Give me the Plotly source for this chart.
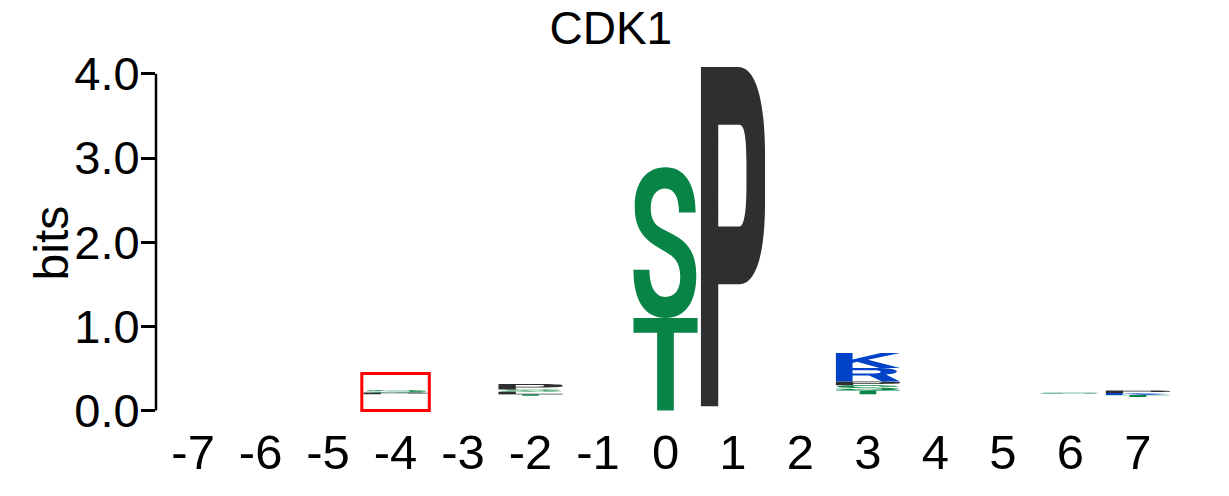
import plotly.graph_objects as go

# ---------------- data ----------------
title_text = "CDK1"
y_label = "bits"
positions = [-7, -6, -5, -4, -3, -2, -1, 0, 1, 2, 3, 4, 5, 6, 7]
position_labels = ["-7", "-6", "-5", "-4", "-3", "-2", "-1", "0", "1", "2", "3", "4", "5", "6", "7"]
y_ticks = [0.0, 1.0, 2.0, 3.0, 4.0]
y_tick_labels = ["0.0", "1.0", "2.0", "3.0", "4.0"]

# bits occupied below the visible letters of each position
base_bits = [0, 0, 0, 0.195, 0, 0.175, 0, 0, 0.05, 0, 0.195, 0, 0, 0.20, 0.16]

# letters in stacking order (bottom -> top) per position
letter_pos = [-4, -4, -2, -2, -2, -2, 0, 0, 1, 3, 3, 3, 3, 3, 6, 7, 7, 7]
letter_char = ["P", "S", "T", "L", "S", "P", "T", "S", "P", "T", "S", "P", "R", "K", "S", "T", "K", "P"]
letter_bits = [0.02, 0.03, 0.02, 0.03, 0.025, 0.065, 1.10, 1.79, 4.03,
               0.045, 0.06, 0.045, 0.16, 0.18, 0.012, 0.025, 0.025, 0.03]

# highlighted position
highlight_pos = -4
highlight_top_bits = 0.44

# ---------------- styles ----------------
FONT = "Liberation Sans, Arial, Helvetica, sans-serif"
GREEN = "#078446"
BLUE = "#0043c8"
DARK = "#2f2f2f"
RED = "#d00000"
PURPLE = "#8a2be2"
letter_color = {}
for c in "STGYC":
    letter_color[c] = GREEN
for c in "KRH":
    letter_color[c] = BLUE
for c in "DE":
    letter_color[c] = RED
for c in "QN":
    letter_color[c] = PURPLE
LETTER_WIDTH = 0.95

# glyph outlines in a unit box (x right, y up)
GLYPHS = {
    "T": [[("M", (0, 1)), ("L", (1, 1)), ("L", (1, 0.84)), ("L", (0.63, 0.84)),
           ("L", (0.63, 0)), ("L", (0.37, 0)), ("L", (0.37, 0.84)), ("L", (0, 0.84))]],
    "L": [[("M", (0, 0)), ("L", (0, 1)), ("L", (0.27, 1)), ("L", (0.27, 0.15)),
           ("L", (1, 0.15)), ("L", (1, 0))]],
    "P": [
        [("M", (0, 0)), ("L", (0, 1)), ("L", (0.58, 1)),
         ("C", (0.86, 1), (1, 0.9), (1, 0.74)), ("L", (1, 0.6)),
         ("C", (1, 0.45), (0.86, 0.36), (0.6, 0.36)), ("L", (0.27, 0.36)), ("L", (0.27, 0))],
        [("M", (0.27, 0.53)), ("L", (0.6, 0.53)),
         ("C", (0.68, 0.53), (0.71, 0.58), (0.71, 0.65)), ("L", (0.71, 0.72)),
         ("C", (0.71, 0.79), (0.68, 0.83), (0.6, 0.83)), ("L", (0.27, 0.83))],
    ],
    "R": [
        [("M", (0, 0)), ("L", (0, 1)), ("L", (0.6, 1)),
         ("C", (0.85, 1), (0.95, 0.88), (0.95, 0.74)),
         ("C", (0.95, 0.62), (0.88, 0.55), (0.78, 0.52)),
         ("L", (1, 0)), ("L", (0.72, 0)), ("L", (0.52, 0.45)), ("L", (0.26, 0.45)), ("L", (0.26, 0))],
        [("M", (0.26, 0.6)), ("L", (0.6, 0.6)),
         ("C", (0.66, 0.6), (0.7, 0.64), (0.7, 0.72)),
         ("C", (0.7, 0.8), (0.66, 0.84), (0.6, 0.84)), ("L", (0.26, 0.84))],
    ],
    "K": [[("M", (0, 0)), ("L", (0, 1)), ("L", (0.26, 1)), ("L", (0.26, 0.56)),
           ("L", (0.7, 1)), ("L", (1, 1)), ("L", (0.5, 0.55)), ("L", (1, 0)),
           ("L", (0.68, 0)), ("L", (0.33, 0.42)), ("L", (0.26, 0.34)), ("L", (0.26, 0))]],
    "S": [[("M", (0.97, 0.70)),
           ("C", (0.97, 0.90), (0.78, 1.0), (0.50, 1.0)),
           ("C", (0.20, 1.0), (0.02, 0.90), (0.02, 0.74)),
           ("C", (0.02, 0.57), (0.20, 0.51), (0.50, 0.44)),
           ("C", (0.66, 0.40), (0.73, 0.36), (0.73, 0.27)),
           ("C", (0.73, 0.18), (0.63, 0.14), (0.50, 0.14)),
           ("C", (0.35, 0.14), (0.25, 0.20), (0.25, 0.32)),
           ("L", (0.0, 0.32)),
           ("C", (0.0, 0.10), (0.20, 0.0), (0.50, 0.0)),
           ("C", (0.80, 0.0), (0.98, 0.10), (0.98, 0.28)),
           ("C", (0.98, 0.46), (0.80, 0.52), (0.50, 0.58)),
           ("C", (0.34, 0.61), (0.27, 0.65), (0.27, 0.73)),
           ("C", (0.27, 0.81), (0.36, 0.86), (0.50, 0.86)),
           ("C", (0.64, 0.86), (0.71, 0.80), (0.71, 0.70))]],
}


def glyph_path(ch, xc, y0, h, w=LETTER_WIDTH):
    def tr(p):
        return f"{xc - w / 2 + p[0] * w:.5f},{y0 + p[1] * h:.6f}"
    parts = []
    for contour in GLYPHS[ch]:
        for seg in contour:
            if seg[0] == "C":
                parts.append("C " + " ".join(tr(p) for p in seg[1:]))
            else:
                parts.append(seg[0] + " " + tr(seg[1]))
        parts.append("Z")
    return " ".join(parts)


fig = go.Figure()
# invisible trace anchoring the axes
fig.add_trace(go.Scatter(x=positions, y=[0] * len(positions), mode="markers",
                         marker=dict(opacity=0), hoverinfo="skip", showlegend=False))

shapes = []
stack_top = {p: b for p, b in zip(positions, base_bits)}
for p, ch, h in zip(letter_pos, letter_char, letter_bits):
    y0 = stack_top[p]
    col = letter_color.get(ch, DARK)
    shapes.append(dict(type="path", xref="x", yref="y", path=glyph_path(ch, p, y0, h),
                       fillcolor=col, line=dict(width=0), layer="above"))
    stack_top[p] = y0 + h

# y-axis line from 0 to 4
shapes.append(dict(type="line", xref="paper", yref="y", x0=0, x1=0,
                   y0=y_ticks[0], y1=y_ticks[-1], line=dict(color="black", width=2.5)))
# highlight box
shapes.append(dict(type="rect", xref="x", yref="y", x0=highlight_pos - 0.5, x1=highlight_pos + 0.5,
                   y0=0, y1=highlight_top_bits, line=dict(color="#ff0000", width=3),
                   fillcolor="rgba(0,0,0,0)"))

fig.update_layout(
    width=1229, height=496,
    margin=dict(l=156, r=54, t=57, b=77),
    paper_bgcolor="white", plot_bgcolor="white",
    showlegend=False,
    shapes=shapes,
    font=dict(family=FONT, color="black"),
    title=dict(text=title_text, x=0.497, xref="container", xanchor="center",
               y=1 - 28 / 496, yref="container", yanchor="middle",
               font=dict(size=46, family=FONT, color="black")),
    xaxis=dict(range=[-7.55, 7.55], tickmode="array", tickvals=positions, ticktext=position_labels,
               showgrid=False, zeroline=False, showline=False, ticks="",
               tickfont=dict(size=49, family=FONT, color="black"), fixedrange=True),
    yaxis=dict(range=[-0.1, 4.2], tickmode="array", tickvals=y_ticks, ticktext=y_tick_labels,
               showgrid=False, zeroline=False, showline=False, ticks="outside", ticklen=14,
               tickwidth=2.5, tickcolor="black", ticklabelstandoff=-8,
               tickfont=dict(size=47, family=FONT, color="black"), fixedrange=True),
    annotations=[dict(text=y_label, xref="paper", yref="paper", x=-0.103, y=0.485,
                      xanchor="center", yanchor="middle", textangle=-90, showarrow=False,
                      font=dict(size=48, family=FONT, color="black"))],
)

fig.write_html("out.html")
